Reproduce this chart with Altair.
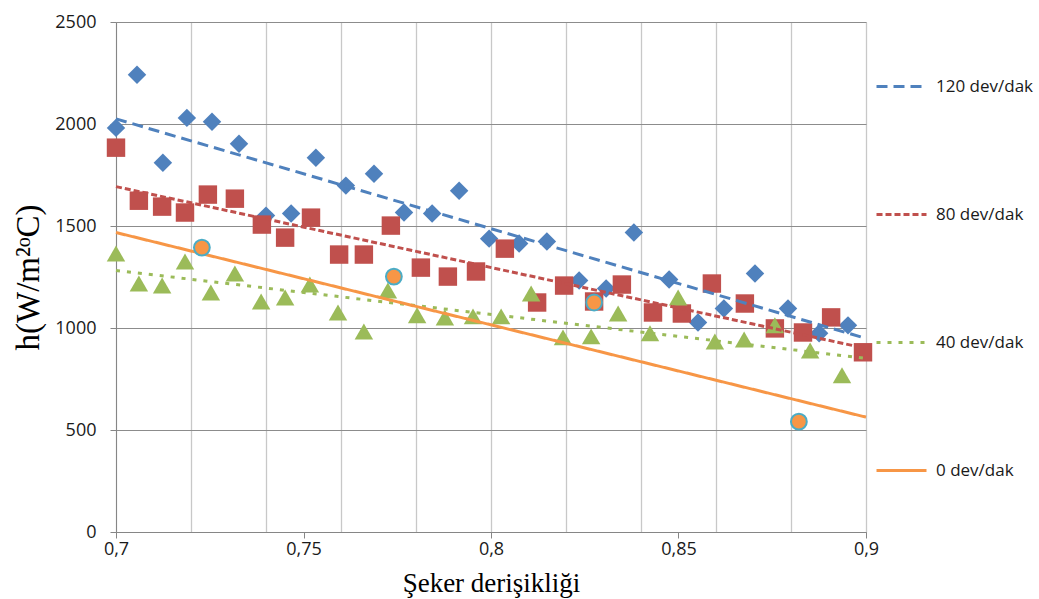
import altair as alt
import pandas as pd

series_names = ["120 dev/dak", "80 dev/dak", "40 dev/dak", "0 dev/dak"]
series_colors = ["#4f81bd", "#c0504d", "#9bbb59", "#f79646"]

# 120 dev/dak (blue diamonds)
x_120 = [0.7000, 0.7056, 0.7125, 0.7189, 0.7256, 0.7328, 0.7400, 0.7467, 0.7533,
         0.7613, 0.7688, 0.7768, 0.7843, 0.7915, 0.7995, 0.8075, 0.8149, 0.8235,
         0.8307, 0.8381, 0.8475, 0.8552, 0.8621, 0.8704, 0.8792, 0.8875, 0.8952]
h_120 = [1981, 2241, 1810, 2030, 2011, 1903, 1551, 1561, 1835,
         1698, 1756, 1566, 1561, 1673, 1438, 1414, 1424, 1233,
         1194, 1468, 1238, 1027, 1096, 1267, 1096, 974, 1013]

# 80 dev/dak (red squares)
x_80 = [0.7000, 0.7061, 0.7123, 0.7184, 0.7245, 0.7317, 0.7389, 0.7451, 0.7520,
        0.7595, 0.7661, 0.7733, 0.7813, 0.7885, 0.7960, 0.8037, 0.8123, 0.8195,
        0.8275, 0.8349, 0.8432, 0.8509, 0.8589, 0.8677, 0.8757, 0.8832, 0.8907, 0.8992]
h_80 = [1884, 1624, 1595, 1566, 1654, 1634, 1507, 1443, 1541,
        1360, 1360, 1502, 1296, 1252, 1277, 1389, 1125, 1208,
        1130, 1213, 1076, 1071, 1218, 1120, 998, 978, 1052, 881]

# 40 dev/dak (green triangles)
x_40 = [0.7000, 0.7061, 0.7123, 0.7184, 0.7253, 0.7317, 0.7387, 0.7451, 0.7517,
        0.7592, 0.7661, 0.7725, 0.7803, 0.7877, 0.7952, 0.8027, 0.8107, 0.8192,
        0.8267, 0.8339, 0.8424, 0.8499, 0.8597, 0.8675, 0.8757, 0.8851, 0.8936]
h_40 = [1365, 1218, 1208, 1326, 1174, 1267, 1130, 1150, 1213,
        1076, 983, 1184, 1062, 1052, 1057, 1057, 1169, 954,
        959, 1071, 974, 1150, 934, 944, 1013, 890, 768]

# 0 dev/dak (orange circles)
x_0 = [0.7229, 0.7741, 0.8275, 0.8821]
h_0 = [1394, 1252, 1125, 541]

# linear trend lines: values at x = 0.7 and x = 0.9
trend_x = [0.7, 0.9]
trend_120 = [2025, 949]
trend_80 = [1693, 900]
trend_40 = [1282, 851]
trend_0 = [1468, 563]

x_tick_values = [0.7, 0.72, 0.74, 0.75, 0.76, 0.78, 0.8, 0.82, 0.84, 0.85, 0.86, 0.88, 0.9]
y_tick_values = [0, 500, 1000, 1500, 2000, 2500]

pts = pd.concat([
    pd.DataFrame({"x": x_120, "h": h_120, "series": series_names[0]}),
    pd.DataFrame({"x": x_80, "h": h_80, "series": series_names[1]}),
    pd.DataFrame({"x": x_40, "h": h_40, "series": series_names[2]}),
], ignore_index=True)
pts["series_order"] = pts.index
pts0 = pd.DataFrame({"x": x_0, "h": h_0, "series": series_names[3]})

trend_rows = []
for name, vals in zip(series_names, [trend_120, trend_80, trend_40, trend_0]):
    for xv, yv in zip(trend_x, vals):
        trend_rows.append({"x": xv, "h": yv, "series": name})
trend = pd.DataFrame(trend_rows)

is5 = "abs(round(datum.value*20) - datum.value*20) < 0.001"
is2 = "abs(round(datum.value*50) - datum.value*50) < 0.001"

xscale = alt.Scale(domain=[0.7, 0.9], nice=False, zero=False)
yscale = alt.Scale(domain=[0, 2500], nice=False)

x_axis = alt.Axis(
    values=x_tick_values,
    title="Şeker derişikliği",
    grid=True,
    gridColor="#c8c8c8",
    gridWidth=1.3,
    gridOpacity={"condition": {"test": is2, "value": 1}, "value": 0},
    tickOpacity={"condition": {"test": is5, "value": 1}, "value": 0},
    labelExpr=f"({is5}) ? replace(format(datum.value, '.2~f'), '.', ',') : ''",
    tickSize=6,
    tickColor="#868686",
    domainColor="#868686",
    labelPadding=2,
    labelFont="Open Sans",
    labelFontSize=18,
    labelColor="#1a1a1a",
    labelFlush=False,
    labelOverlap=False,
    titleFont="Liberation Serif",
    titleFontSize=27,
    titleFontWeight="normal",
    titleColor="#000000",
    titleBaseline="alphabetic",
    titleY=59,
)

y_axis = alt.Axis(
    values=y_tick_values,
    format="d",
    title="h(W/m²ᵒC)",
    grid=True,
    gridColor="#8c8c8c",
    gridWidth=1.2,
    tickSize=6,
    tickColor="#868686",
    domainColor="#868686",
    labelPadding=14,
    labelFont="Open Sans",
    labelFontSize=18,
    labelColor="#1a1a1a",
    titleFont="Liberation Serif",
    titleFontSize=33,
    titleFontWeight="normal",
    titleColor="#000000",
    titleBaseline="middle",
    titleX=-88,
    titleY=255,
    titleAngle=270,
)

legend = alt.Legend(
    title=None, orient="none", legendX=759, legendY=38,
    symbolType="stroke", symbolSize=2500,
    rowPadding=93, labelFont="Open Sans", labelFontSize=17,
    labelColor="#1a1a1a", labelOffset=8, padding=0,
)

color_scale = alt.Scale(domain=series_names, range=series_colors)
shape_scale = alt.Scale(domain=series_names[:3], range=["diamond", "square", "triangle-up"])
dash_scale = alt.Scale(domain=series_names, range=[[11, 6], [6, 3], [4, 7], [1, 0]])
width_scale = alt.Scale(domain=series_names, range=[3, 3, 4.5, 2.8])

points = alt.Chart(pts).mark_point(filled=True, size=340, opacity=1).encode(
    x=alt.X("x:Q", scale=xscale, axis=x_axis),
    y=alt.Y("h:Q", scale=yscale, axis=y_axis),
    color=alt.Color("series:N", scale=color_scale, legend=legend),
    shape=alt.Shape("series:N", scale=shape_scale, legend=None),
    order=alt.Order("series_order:Q"),
)

lines = alt.Chart(trend).mark_line().encode(
    x=alt.X("x:Q", scale=xscale),
    y=alt.Y("h:Q", scale=yscale),
    detail="series:N",
    color=alt.Color("series:N", scale=color_scale, legend=legend),
    strokeDash=alt.StrokeDash("series:N", scale=dash_scale, legend=legend),
    strokeWidth=alt.StrokeWidth("series:N", scale=width_scale, legend=legend),
)

orange_pts = alt.Chart(pts0).mark_point(
    shape="circle", filled=True, size=250, fill="#f79646", stroke="#4bacc6",
    strokeWidth=2, opacity=1
).encode(
    x=alt.X("x:Q", scale=xscale),
    y=alt.Y("h:Q", scale=yscale),
)

chart = alt.layer(
    points,
    lines,
    orange_pts,
).properties(
    width=750,
    height=510,
    autosize=alt.AutoSizeParams(type="none"),
    padding={"left": 116, "top": 22, "right": 173, "bottom": 67},
).configure_view(
    stroke="transparent"
).configure(
    background="white"
)

chart.save("out.html", embed_options={"renderer": "svg", "actions": False})
